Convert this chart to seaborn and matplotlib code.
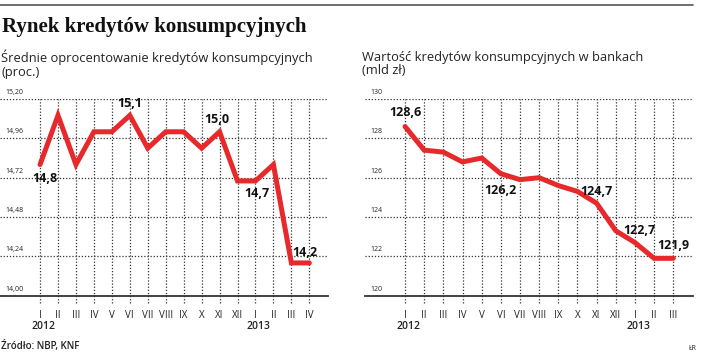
import matplotlib
matplotlib.use("Agg")
import matplotlib.pyplot as plt
import seaborn as sns
import pandas as pd

# dane
miesiace_l = ["I", "II", "III", "IV", "V", "VI", "VII", "VIII", "IX", "X", "XI", "XII",
              "I", "II", "III", "IV"]
oprocentowanie = [14.80, 15.10, 14.80, 15.00, 15.00, 15.10, 14.90, 15.00, 15.00, 14.90,
                  15.00, 14.70, 14.70, 14.80, 14.20, 14.20]
miesiace_p = ["I", "II", "III", "IV", "V", "VI", "VII", "VIII", "IX", "X", "XI", "XII",
              "I", "II", "III"]
wartosc = [128.6, 127.4, 127.3, 126.8, 127.0, 126.2, 125.9, 126.0, 125.6, 125.3,
           124.7, 123.3, 122.7, 121.9, 121.9]
yticks_l = [14.00, 14.24, 14.48, 14.72, 14.96, 15.20]
yticks_p = [120, 122, 124, 126, 128, 130]
# (indeks punktu, tekst, dx px, dy px)
etykiety_l = [(0, "14,8", 5, -14), (5, "15,1", 0, 12), (10, "15,0", -3, 12),
              (12, "14,7", 1, -13), (15, "14,2", -4, 10)]
etykiety_p = [(0, "128,6", 0, 14), (5, "126,2", 0, -17), (10, "124,7", 0, 12),
              (12, "122,7", 4, 12), (14, "121,9", 0, 13)]

sns.set_style("white")
plt.rcParams["font.family"] = ["Open Sans", "DejaVu Sans"]

CZERWONY = "#e8292c"
SZARY = "#333333"

fig = plt.figure(figsize=(7.18, 3.60), dpi=100)
W, H = 718, 360


def px_axes(x0, x1, ytop, ybot):
    return fig.add_axes([x0 / W, 1 - ybot / H, (x1 - x0) / W, (ybot - ytop) / H])


def panel(ax, miesiace, wartosci, yticks, etykiety, xlim, fmt, lata):
    df = pd.DataFrame({"i": range(len(wartosci)), "v": wartosci})
    ax.set_xlim(*xlim)
    ax.set_ylim(yticks[0], yticks[-1])
    krok = (yticks[-1] - yticks[0]) / (295.7 - 99)  # jednostki na px
    for y in yticks[1:]:
        ax.axhline(y, color=SZARY, lw=0.9, ls=(0, (1, 1.5)), zorder=1)
    ax.vlines(df["i"], yticks[0] - 7.5 * krok, yticks[-1], color=SZARY, lw=0.9,
              ls=(0, (1, 1.5)), zorder=1, clip_on=False)
    sns.lineplot(data=df, x="i", y="v", ax=ax, color=CZERWONY, lw=3.6, zorder=3,
                 solid_joinstyle="miter")
    for s in ["top", "right", "left"]:
        ax.spines[s].set_visible(False)
    ax.spines["bottom"].set_color(SZARY)
    ax.spines["bottom"].set_linewidth(1.3)
    ax.set_xlabel("")
    ax.set_ylabel("")
    ax.set_yticks([])
    ax.set_xticks(df["i"])
    ax.set_xticklabels(miesiace, fontsize=7, color="#222222")
    ax.tick_params(axis="x", length=0, pad=10)
    ax.set_facecolor("none")
    for y in yticks:
        ax.annotate(fmt(y), xy=(0, y), xycoords=("axes fraction", "data"),
                    xytext=(5, 3), textcoords="offset pixels", fontsize=5,
                    color="#222222", va="bottom", ha="left")
    for i, t, dx, dy in etykiety:
        ax.annotate(t, xy=(i, wartosci[i]), xytext=(dx, dy), textcoords="offset pixels",
                    ha="center", va="center", fontsize=9, fontweight="bold", color="#111111",
                    zorder=5)
    for i, rok in lata:
        ax.annotate(rok, xy=(i, 0), xycoords=("data", "axes fraction"), xytext=(3, -31),
                    textcoords="offset pixels", ha="center", va="center", fontsize=7.5,
                    fontweight="semibold", color="#222222")


ax1 = px_axes(0, 328, 99, 295.7)
panel(ax1, miesiace_l, oprocentowanie, yticks_l, etykiety_l, (-2.23, 16.04),
      lambda v: f"{v:.2f}".replace(".", ","), [(0, "2012"), (12, "2013")])

ax2 = px_axes(365, 693, 99, 295.7)
panel(ax2, miesiace_p, wartosc, yticks_p, etykiety_p, (-2.09, 15.03),
      lambda v: f"{v:d}", [(0, "2012"), (12, "2013")])

# tytuły i opisy
fig.add_artist(plt.Line2D([0, 693 / W], [1 - 5 / H, 1 - 5 / H], color="#555555", lw=1.2))
fig.text(2 / W, 1 - 27 / H, "Rynek kredytów konsumpcyjnych", fontsize=15,
         fontweight="bold", family="Liberation Serif", va="center", ha="left", color="#111111")
fig.text(1 / W, 1 - 64 / H, "Średnie oprocentowanie kredytów konsumpcyjnych\n(proc.)",
         fontsize=9.3, va="center", ha="left", color="#222222", linespacing=1.1)
fig.text(362 / W, 1 - 64 / H, "Wartość kredytów konsumpcyjnych w bankach\n(mld zł)",
         fontsize=9.3, va="center", ha="left", color="#222222", linespacing=1.1)
fig.text(1 / W, 1 - 347 / H, "Źródło: NBP, KNF", fontsize=7, fontweight="semibold",
         va="center", ha="left", color="#222222")
fig.text(689 / W, 1 - 348 / H, "ŁR", fontsize=5, va="center", ha="left", color="#222222")

fig.savefig("out.png", dpi=100, facecolor="white")
